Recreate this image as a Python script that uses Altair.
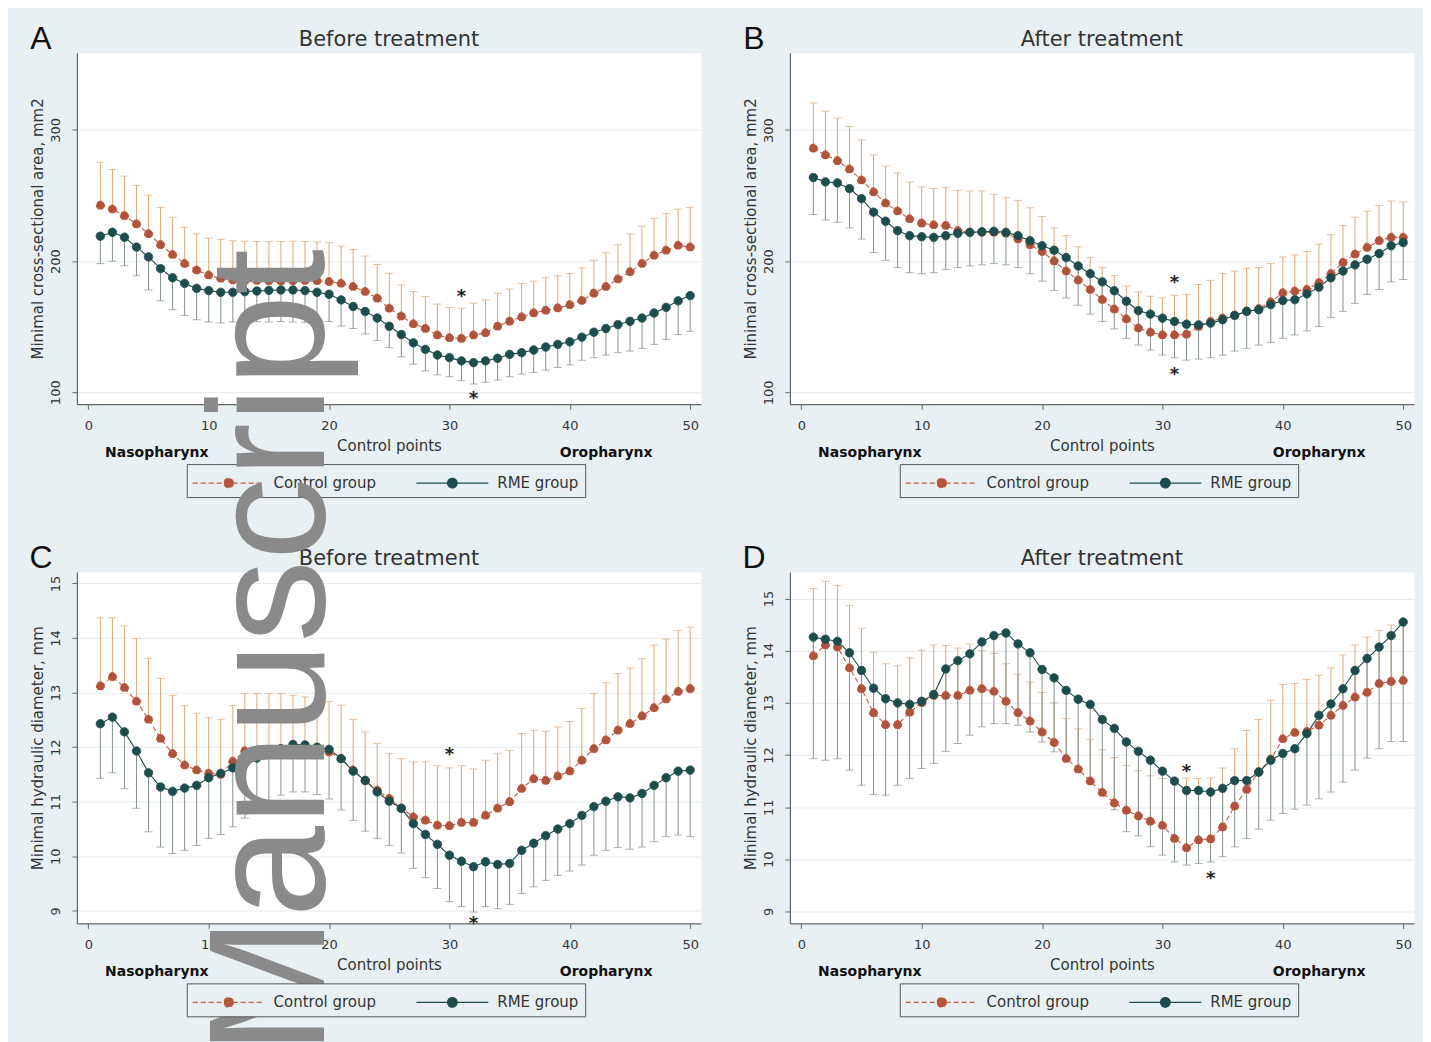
import altair as alt
import pandas as pd

BG = "#e9f0f3"
CTRL_PT = "#b0533c"
CTRL_LINE = "#c25b41"
CTRL_BAR = "#d9a877"
RME_PT = "#1d4c4c"
RME_LINE = "#1d4c4c"
RME_BAR = "#85928f"

control_points = list(range(1, 51))
groups = ["Control group", "RME group"]
panel_letters = ["A", "B", "C", "D"]
panel_titles = ["Before treatment", "After treatment", "Before treatment", "After treatment"]
y_titles = ["Minimal cross-sectional area, mm2", "Minimal cross-sectional area, mm2",
            "Minimal hydraulic diameter, mm", "Minimal hydraulic diameter, mm"]
x_title = "Control points"
x_ticks = [0, 10, 20, 30, 40, 50]
csa_ticks = [100, 200, 300]
hd_ticks = [9, 10, 11, 12, 13, 14, 15]
region_labels = ["Nasopharynx", "Oropharynx"]
watermark_text = ["Manuscript"]

# ---- Panel A: cross-sectional area, before treatment ----
ctrl_mean_A = [242.6, 239.6, 234.6, 228.3, 220.8, 212.5, 204.9, 198.1, 193.1, 189.3,
               186.8, 185.6, 185.0, 185.2, 185.0, 184.8, 185.0, 185.2, 185.0, 184.3,
               183.0, 180.5, 176.7, 171.7, 164.0, 158.0, 152.1, 148.6, 143.6, 141.5,
               141.0, 143.6, 145.3, 150.3, 154.1, 157.4, 160.4, 162.4, 164.2, 166.7,
               169.9, 175.5, 180.5, 186.3, 191.8, 198.1, 204.4, 208.2, 212.0, 210.7]
ctrl_upper_A = [275.4, 269.8, 264.8, 257.7, 250.2, 240.9, 233.3, 225.8, 220.8, 217.5,
                216.5, 215.5, 215.0, 215.0, 214.8, 215.0, 215.2, 215.0, 214.6, 214.0,
                211.5, 208.9, 203.9, 197.4, 190.6, 181.8, 176.7, 172.9, 167.2, 164.6,
                164.1, 167.9, 170.4, 175.5, 178.7, 183.0, 184.8, 187.3, 188.8, 190.6,
                194.8, 200.6, 206.4, 212.5, 220.8, 226.6, 232.6, 236.4, 239.6, 240.9]
rme_mean_A = [219.0, 222.0, 218.2, 210.7, 203.2, 194.3, 187.3, 183.0, 179.2, 177.5,
              176.2, 176.2, 176.7, 177.2, 177.7, 178.0, 178.0, 177.5, 176.2, 174.7,
              170.4, 165.4, 161.6, 156.6, 150.3, 144.0, 137.7, 132.7, 128.4, 126.4,
              123.9, 122.6, 123.9, 125.9, 128.9, 130.2, 132.2, 134.5, 136.5, 138.5,
              142.0, 145.8, 148.6, 151.6, 154.1, 156.6, 160.4, 164.7, 169.7, 173.7]
rme_lower_A = [198.1, 199.9, 196.4, 188.8, 178.0, 169.7, 162.9, 158.6, 155.3, 153.6,
               152.8, 153.6, 153.2, 153.8, 153.6, 154.0, 153.6, 153.4, 154.1, 154.0,
               150.5, 148.6, 144.5, 139.5, 134.0, 127.0, 121.4, 116.3, 113.3, 111.8,
               108.8, 106.3, 107.6, 109.3, 111.8, 113.8, 115.1, 116.9, 118.9, 120.9,
               124.4, 126.4, 128.4, 130.2, 131.4, 133.5, 136.5, 140.3, 144.0, 146.5]
star_x_A = [31, 32]
star_y_A = [176.7, 98.7]

# ---- Panel B: cross-sectional area, after treatment ----
ctrl_mean_B = [286.1, 281.0, 276.6, 270.2, 261.8, 252.8, 244.3, 238.2, 232.3, 229.0,
               227.7, 227.2, 223.3, 222.0, 222.0, 222.0, 221.3, 216.9, 212.5, 207.4,
               200.2, 192.5, 185.6, 178.4, 170.7, 163.5, 156.0, 149.0, 145.9, 143.8,
               143.8, 144.3, 150.2, 154.1, 156.6, 158.7, 161.8, 163.8, 169.0, 175.9,
               177.2, 178.4, 183.6, 190.5, 199.0, 205.4, 210.5, 215.6, 218.2, 218.2]
ctrl_upper_B = [320.7, 314.3, 309.2, 302.8, 292.5, 281.0, 272.5, 267.4, 260.5, 256.6,
                255.4, 256.1, 254.1, 253.6, 253.6, 251.0, 248.4, 246.4, 240.7, 234.1,
                225.4, 219.5, 211.0, 202.8, 195.1, 189.0, 181.0, 176.6, 173.3, 172.0,
                174.1, 174.6, 182.3, 185.4, 190.5, 192.5, 194.6, 195.1, 198.2, 203.3,
                204.8, 207.4, 213.0, 220.2, 227.2, 233.6, 238.2, 242.5, 245.9, 245.1]
rme_mean_B = [263.8, 260.5, 259.7, 255.4, 247.7, 237.4, 230.5, 223.3, 219.5, 218.7,
              218.2, 219.5, 221.3, 222.0, 222.5, 222.8, 222.0, 219.5, 215.6, 211.8,
              208.4, 202.8, 196.4, 190.5, 184.3, 177.5, 169.5, 162.3, 159.7, 156.6,
              154.1, 152.0, 151.5, 152.8, 155.4, 158.7, 161.8, 163.0, 166.9, 170.0,
              170.7, 175.1, 180.2, 187.4, 192.5, 197.2, 201.5, 205.9, 211.8, 214.3]
rme_lower_B = [235.6, 231.5, 229.7, 225.4, 216.9, 206.6, 200.7, 195.1, 191.3, 190.5,
               191.3, 193.8, 195.1, 196.4, 197.2, 198.2, 197.2, 195.1, 190.5, 184.8,
               177.7, 172.0, 166.4, 159.7, 154.1, 148.4, 141.2, 136.1, 132.3, 128.4,
               126.4, 124.6, 125.4, 126.4, 128.4, 131.5, 133.6, 136.1, 138.2, 141.2,
               143.8, 146.9, 150.2, 157.2, 161.8, 167.9, 174.6, 178.4, 184.3, 186.1]
star_x_B = [31, 31]
star_y_B = [187.4, 116.9]

# ---- Panel C: hydraulic diameter, before treatment ----
ctrl_mean_C = [13.12, 13.29, 13.09, 12.84, 12.51, 12.16, 11.88, 11.67, 11.58, 11.52,
               11.50, 11.74, 11.93, 11.94, 11.94, 11.97, 12.00, 11.97, 11.94, 11.91,
               11.79, 11.58, 11.39, 11.21, 11.06, 10.88, 10.72, 10.66, 10.57, 10.56,
               10.62, 10.62, 10.75, 10.88, 11.00, 11.24, 11.42, 11.39, 11.47, 11.56,
               11.76, 11.97, 12.13, 12.31, 12.43, 12.57, 12.72, 12.88, 13.02, 13.07]
ctrl_upper_C = [14.37, 14.37, 14.22, 13.99, 13.63, 13.26, 12.95, 12.76, 12.62, 12.54,
                12.51, 12.76, 12.98, 12.98, 12.98, 12.98, 12.95, 12.92, 12.88, 12.84,
                12.77, 12.51, 12.28, 12.07, 11.88, 11.79, 11.73, 11.73, 11.66, 11.62,
                11.66, 11.60, 11.76, 11.88, 11.94, 12.25, 12.31, 12.29, 12.37, 12.47,
                12.71, 12.98, 13.18, 13.35, 13.45, 13.62, 13.87, 13.98, 14.14, 14.20]
rme_mean_C = [12.43, 12.55, 12.28, 11.93, 11.53, 11.27, 11.19, 11.25, 11.30, 11.44,
              11.52, 11.62, 11.70, 11.80, 11.91, 11.97, 12.05, 12.04, 12.00, 11.96,
              11.79, 11.56, 11.39, 11.18, 11.01, 10.88, 10.60, 10.40, 10.22, 10.02,
              9.91, 9.81, 9.90, 9.85, 9.87, 10.11, 10.24, 10.38, 10.50, 10.60,
              10.75, 10.91, 11.01, 11.09, 11.07, 11.15, 11.30, 11.44, 11.56, 11.58]
rme_lower_C = [11.43, 11.53, 11.24, 10.88, 10.45, 10.17, 10.05, 10.11, 10.20, 10.33,
               10.40, 10.54, 10.70, 10.88, 11.00, 11.12, 11.18, 11.18, 11.13, 11.05,
               10.85, 10.66, 10.46, 10.33, 10.20, 10.06, 9.78, 9.61, 9.41, 9.17,
               9.08, 8.98, 9.08, 9.04, 9.12, 9.32, 9.44, 9.56, 9.65, 9.73,
               9.84, 10.02, 10.11, 10.16, 10.13, 10.17, 10.27, 10.36, 10.39, 10.36]
star_x_C = [30, 32]
star_y_C = [11.94, 8.85]

# ---- Panel D: hydraulic diameter, after treatment ----
ctrl_mean_D = [13.90, 14.11, 14.07, 13.67, 13.27, 12.81, 12.58, 12.58, 12.82, 13.00,
               13.14, 13.14, 13.14, 13.24, 13.27, 13.22, 13.03, 12.81, 12.65, 12.44,
               12.24, 11.93, 11.73, 11.50, 11.28, 11.08, 10.94, 10.83, 10.73, 10.65,
               10.40, 10.22, 10.37, 10.39, 10.62, 11.02, 11.34, 11.68, 11.92, 12.31,
               12.43, 12.45, 12.57, 12.76, 12.95, 13.11, 13.20, 13.37, 13.41, 13.43]
ctrl_upper_D = [15.19, 15.33, 15.25, 14.87, 14.43, 13.97, 13.75, 13.71, 13.86, 14.01,
                14.11, 14.10, 14.05, 14.13, 14.00, 13.95, 13.75, 13.55, 13.40, 13.20,
                13.00, 12.70, 12.50, 12.30, 12.10, 11.95, 11.80, 11.70, 11.60, 11.55,
                11.45, 11.56, 11.55, 11.56, 11.75, 12.12, 12.47, 12.68, 13.05, 13.35,
                13.37, 13.45, 13.53, 13.67, 13.92, 14.11, 14.26, 14.39, 14.49, 14.55]
rme_mean_D = [14.26, 14.22, 14.18, 13.96, 13.62, 13.28, 13.08, 13.00, 12.97, 13.03,
              13.16, 13.65, 13.81, 13.94, 14.17, 14.29, 14.34, 14.13, 13.96, 13.64,
              13.48, 13.24, 13.07, 12.97, 12.68, 12.51, 12.25, 12.07, 11.90, 11.69,
              11.50, 11.32, 11.32, 11.29, 11.36, 11.51, 11.51, 11.67, 11.90, 12.03,
              12.12, 12.41, 12.76, 12.98, 13.27, 13.62, 13.85, 14.07, 14.29, 14.55]
rme_lower_D = [11.93, 11.90, 11.93, 11.71, 11.42, 11.24, 11.23, 11.42, 11.55, 11.74,
               11.84, 12.07, 12.22, 12.38, 12.54, 12.60, 12.60, 12.57, 12.44, 12.25,
               12.06, 11.88, 11.69, 11.48, 11.30, 10.95, 10.53, 10.45, 10.24, 10.08,
               9.95, 9.89, 9.92, 9.95, 10.05, 10.24, 10.40, 10.58, 10.75, 10.88,
               10.96, 11.04, 11.16, 11.29, 11.48, 11.71, 11.94, 12.12, 12.26, 12.26]
star_x_D = [32, 34]
star_y_D = [11.77, 9.71]

SYM = "M-3,0H3M0.4,0A0.4,0.4,0,1,1,-0.4,0A0.4,0.4,0,1,1,0.4,0Z"

fill_scale = alt.Scale(domain=groups, range=[CTRL_PT, RME_PT])
stroke_scale = alt.Scale(domain=groups, range=[CTRL_LINE, RME_LINE])
dash_scale = alt.Scale(domain=groups, range=[[5, 3], [1, 0]])


def text_layer(value, x, y, **mark):
    return alt.Chart(pd.DataFrame({"t": [value]})).mark_text(**mark).encode(
        text="t:N", x=alt.value(x), y=alt.value(y))


def make_panel(k, cm, cu, rm, rl, sx, sy, y_domain, y_ticks, with_watermark=False):
    ctrl = pd.DataFrame({"cp": control_points, "mean": cm, "bound": cu})
    rme = pd.DataFrame({"cp": control_points, "mean": rm, "bound": rl})
    both = pd.DataFrame({"cp": control_points + control_points, "mean": cm + rm,
                         "group": [groups[0]] * len(cm) + [groups[1]] * len(rm)})
    stars = pd.DataFrame({"cp": sx, "mean": sy})

    xs = alt.Scale(domain=[-0.95, 50.9], nice=False, zero=False)
    ys = alt.Scale(domain=y_domain, nice=False, zero=False)
    xa = alt.Axis(values=x_ticks, title=x_title, grid=False, labelFlush=False,
                  labelAngle=0, labelPadding=10, titlePadding=6, tickSize=5)
    ya = alt.Axis(values=y_ticks, title=y_titles[k], grid=True, labelAngle=270,
                  labelAlign="center", labelBaseline="bottom", labelFlush=False,
                  labelPadding=9, titlePadding=4, tickSize=5)

    def X():
        return alt.X("cp:Q", scale=xs, axis=xa)

    def Y(f):
        return alt.Y(f + ":Q", scale=ys, axis=ya)

    leg = alt.Legend(title=None, orient="none", legendX=110, legendY=412,
                     direction="horizontal", columns=2, symbolType=SYM, symbolSize=576,
                     symbolStrokeWidth=1.2, symbolOffset=23, labelOffset=32,
                     labelFont="DejaVu Sans", labelFontSize=15, labelColor="#333",
                     strokeColor="#555", fillColor=BG, padding=6, columnPadding=37,
                     symbolOpacity=1)

    layers = [
        alt.Chart(ctrl).mark_rule(color=CTRL_BAR, strokeWidth=1).encode(
            x=X(), y=Y("mean"), y2="bound:Q"),
        alt.Chart(ctrl).mark_tick(color=CTRL_BAR, orient="horizontal", size=8, thickness=1).encode(
            x=X(), y=Y("bound")),
        alt.Chart(rme).mark_rule(color=RME_BAR, strokeWidth=1).encode(
            x=X(), y=Y("mean"), y2="bound:Q"),
        alt.Chart(rme).mark_tick(color=RME_BAR, orient="horizontal", size=8, thickness=1).encode(
            x=X(), y=Y("bound")),
        alt.Chart(ctrl).mark_line(color=CTRL_LINE, strokeWidth=1.1, strokeDash=[5, 3]).encode(
            x=X(), y=Y("mean")),
        alt.Chart(rme).mark_line(color=RME_LINE, strokeWidth=1.1).encode(
            x=X(), y=Y("mean")),
        alt.Chart(both).mark_point(size=70, opacity=1, fillOpacity=1, strokeWidth=1).encode(
            x=X(), y=Y("mean"),
            fill=alt.Fill("group:N", scale=fill_scale, legend=leg),
            stroke=alt.Stroke("group:N", scale=stroke_scale, legend=leg),
            strokeDash=alt.StrokeDash("group:N", scale=dash_scale, legend=leg)),
        alt.Chart(stars).mark_text(text="*", font="DejaVu Sans", fontSize=18, fontWeight="bold",
                                   color="#222", baseline="middle", dy=5).encode(
            x=X(), y=Y("mean")),
        text_layer(panel_letters[k], -36, -4, font="Liberation Sans", fontSize=32,
                   color="#111", align="center", baseline="alphabetic"),
        text_layer(panel_titles[k], 312.5, -7, font="DejaVu Sans", fontSize=21,
                   color="#333", align="center", baseline="alphabetic"),
    ]
    for j, lab in enumerate(region_labels):
        layers.append(text_layer(lab, [80, 530][j], 401, font="DejaVu Sans", fontSize=14,
                                 fontWeight="bold", color="#111", align="center",
                                 baseline="middle"))
    if with_watermark:
        layers.append(text_layer(watermark_text[0], 247, 80, font="Liberation Sans",
                                 fontSize=165, color="#8a8a8a", angle=270,
                                 align="center", baseline="alphabetic"))

    return alt.layer(*layers).properties(width=625, height=352)


pA = make_panel(0, ctrl_mean_A, ctrl_upper_A, rme_mean_A, rme_lower_A, star_x_A, star_y_A,
                [90.9, 358.9], csa_ticks)
pB = make_panel(1, ctrl_mean_B, ctrl_upper_B, rme_mean_B, rme_lower_B, star_x_B, star_y_B,
                [91.0, 359.0], csa_ticks)
pC = make_panel(2, ctrl_mean_C, ctrl_upper_C, rme_mean_C, rme_lower_C, star_x_C, star_y_C,
                [8.77, 15.21], hd_ticks, with_watermark=True)
pD = make_panel(3, ctrl_mean_D, ctrl_upper_D, rme_mean_D, rme_lower_D, star_x_D, star_y_D,
                [8.77, 15.51], hd_ticks)

res = dict(x="independent", y="independent", fill="independent",
           stroke="independent", strokeDash="independent")

chart = alt.concat(pA, pB, pC, pD, columns=2, spacing={"row": 168, "column": 89},
                   bounds="flush").resolve_scale(**res)

chart = chart.properties(
    background=BG,
    padding={"left": 20, "top": 13, "right": 8, "bottom": 8},
).configure_view(
    fill="white", stroke="transparent"
).configure_axis(
    labelFont="DejaVu Sans", labelFontSize=13, labelColor="#333",
    titleFont="DejaVu Sans", titleFontSize=15, titleFontWeight="normal", titleColor="#333",
    domainColor="#666", domainWidth=1.2, tickColor="#666", gridColor="#e6ebee"
)

chart.save("out.html", embed_options={"renderer": "svg", "actions": False})
